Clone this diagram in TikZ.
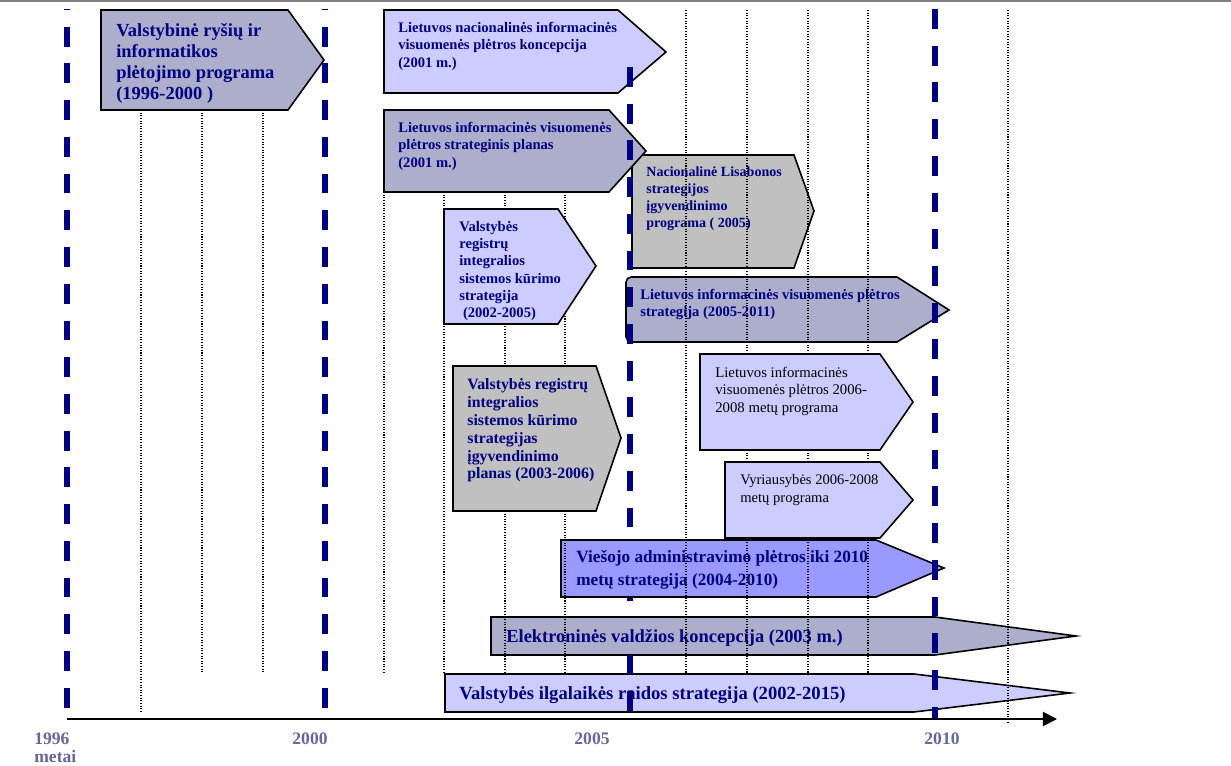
\documentclass[tikz,border=0pt]{standalone}
\usepackage{fontspec}
\setmainfont{Liberation Serif}
\usetikzlibrary{arrows.meta}
\definecolor{navy}{HTML}{000080}
\definecolor{pale}{HTML}{CCCCFF}
\definecolor{slate}{HTML}{ADADCC}
\definecolor{silver}{HTML}{C0C0C0}
\definecolor{vivid}{HTML}{9999FF}
\definecolor{yeargray}{HTML}{66669A}
\definecolor{rulegray}{HTML}{808080}

\begin{document}
\begin{tikzpicture}[
  x=0.02cm, y=-0.02cm,
  phase/.style={draw, line width=0.9pt},
  bigtxt/.style={anchor=north west, inner sep=0pt, align=left, text=navy,
                 font=\fontsize{10.5}{12}\selectfont\bfseries},
  smalltxt/.style={anchor=north west, inner sep=0pt, align=left, text=navy,
                   font=\fontsize{8.3}{9.8}\selectfont\bfseries},
  plaintxt/.style={anchor=north west, inner sep=0pt, align=left, text=black,
                   font=\fontsize{8.4}{9.8}\selectfont},
  yearline/.style={navy, line width=3pt, dash pattern=on 11.3pt off 9.6pt},
  gridline/.style={black, line width=0.6pt, dash pattern=on 0.6pt off 0.9pt},
  yearlbl/.style={text=yeargray, inner sep=0pt, align=left,
                  font=\fontsize{10}{10.2}\selectfont\bfseries},
  axis/.style={-{Triangle[length=8pt, width=8pt]}, line width=1.1pt}
]
  \useasboundingbox (0,0) rectangle (1231,766);

  % 2005 line, lying under the lower arrows
  \draw[yearline] (630,67) -- (630,719);

  % arrows lying under the grid
  \draw[phase, fill=silver] (632,155) -- (794,155) -- (814,211) -- (794,268) -- (632,268) -- cycle;
  \node[smalltxt, font=\fontsize{8}{9.7}\selectfont\bfseries] (lisabona) at (646,166)
    {Nacionalinė Lisabonos\\strategijos\\įgyvendinimo\\programa ( 2005)};

  \draw[phase, fill=slate] (760,277) [rounded corners=3pt] -- (626,277) -- (626,342) -- (760,342)
    [sharp corners] -- (897,342) -- (949,310) -- (897,277) -- cycle;
  \node[smalltxt] (strategija) at (640,289)
    {Lietuvos informacinės visuomenės plėtros\\strategija (2005-2011)};

  \draw[phase, fill=vivid] (561,540) -- (876,540) -- (944,568) -- (876,597) -- (561,597) -- cycle;
  \node[bigtxt, font=\fontsize{9.8}{13}\selectfont\bfseries] (administravimas) at (576,550)
    {Viešojo administravimo plėtros iki 2010\\metų strategija (2004-2010)};

  \draw[phase, fill=slate] (491,617) -- (935,617) -- (1076,636) -- (935,655) -- (491,655) -- cycle;
  \node[bigtxt] (evaldzia) at (506,629) {Elektroninės valdžios koncepcija (2003 m.)};

  \draw[phase, fill=pale] (445,674) -- (914,674) -- (1070,693) -- (914,712) -- (445,712) -- cycle;
  \node[bigtxt, font=\fontsize{10.6}{12}\selectfont\bfseries] (ilgalaike) at (459,686)
    {Valstybės ilgalaikės raidos strategija (2002-2015)};

  % grid
  \draw[gridline] (141,110) -- (141,713);
  \draw[gridline] (202,110) -- (202,673);
  \draw[gridline] (263,110) -- (263,673);
  \draw[gridline] (384,192) -- (384,673);
  \draw[gridline] (444,192) -- (444,673);
  \draw[gridline] (505,192) -- (505,673);
  \draw[gridline] (565,192) -- (565,673);
  \draw[gridline] (686,10) -- (686,673);
  \draw[gridline] (747,10) -- (747,673);
  \draw[gridline] (808,10) -- (808,673);
  \draw[gridline] (868,10) -- (868,673);
  \draw[gridline] (1008,10) -- (1008,724);

  % arrows lying over the grid
  \draw[phase, fill=slate] (101,10) -- (288,10) -- (324,60) -- (288,110) -- (101,110) -- cycle;
  \node[bigtxt] (rysiai) at (116,23)
    {Valstybinė ryšių ir\\informatikos\\plėtojimo programa\\(1996-2000 )};

  \draw[phase, fill=pale] (384,10) -- (618,10) -- (666,52) -- (618,93) -- (384,93) -- cycle;
  \node[smalltxt] (koncepcija) at (398,22)
    {Lietuvos nacionalinės informacinės\\visuomenės plėtros koncepcija\\(2001 m.)};

  \draw[phase, fill=slate] (384,110) -- (609,110) -- (646,151) -- (609,192) -- (384,192) -- cycle;
  \node[smalltxt] (planas) at (398,122)
    {Lietuvos informacinės visuomenės\\plėtros strateginis planas\\(2001 m.)};

  \draw[phase, fill=pale] (444,209) -- (558,209) -- (596,266) -- (558,324) -- (444,324) -- cycle;
  \node[smalltxt] (registrai) at (459,221)
    {Valstybės\\registrų\\integralios\\sistemos kūrimo\\strategija\\~(2002-2005)};

  \draw[phase, fill=silver] (453,366) -- (596,366) -- (621,438) -- (596,511) -- (453,511) -- cycle;
  \node[bigtxt, font=\fontsize{9}{10.2}\selectfont\bfseries] (igyvendinimas) at (467,378)
    {Valstybės registrų\\integralios\\sistemos kūrimo\\strategijas\\įgyvendinimo\\planas (2003-2006)};

  \draw[phase, fill=pale] (700,354) -- (880,354) -- (913,402) -- (880,450) -- (700,450) -- cycle;
  \node[plaintxt] (programa) at (715,367)
    {Lietuvos informacinės\\visuomenės plėtros 2006-\\2008 metų programa};

  \draw[phase, fill=pale] (725,462) -- (880,462) -- (913,500) -- (880,538) -- (725,538) -- cycle;
  \node[plaintxt, font=\fontsize{8.3}{10}\selectfont] (vyriausybe) at (740,474)
    {Vyriausybės 2006-2008\\metų programa};

  % year lines
  \draw[yearline, dash phase=10.8pt] (67,9) -- (67,719);
  \draw[yearline, dash phase=10.8pt] (325,9) -- (325,719);
  \draw[yearline] (935,9) -- (935,719);
  \begin{scope}
    \clip (0,0) rectangle (1231,540) (0,655) rectangle (1231,766);
    \draw[yearline] (630,67) -- (630,719);
  \end{scope}

  % time axis
  \coordinate (origin) at (67,719);
  \coordinate (axisend) at (1057,719);
  \draw[axis] (origin) -- (axisend);
  \draw[rulegray, line width=1.2pt] (0,1) -- (1231,1);

  \node[yearlbl, anchor=north west] (y1996) at (34,733) {1996\\metai};
  \node[yearlbl] (y2000) at (310,739) {2000};
  \node[yearlbl] (y2005) at (592,739) {2005};
  \node[yearlbl] (y2010) at (942,739) {2010};
\end{tikzpicture}
\end{document}
